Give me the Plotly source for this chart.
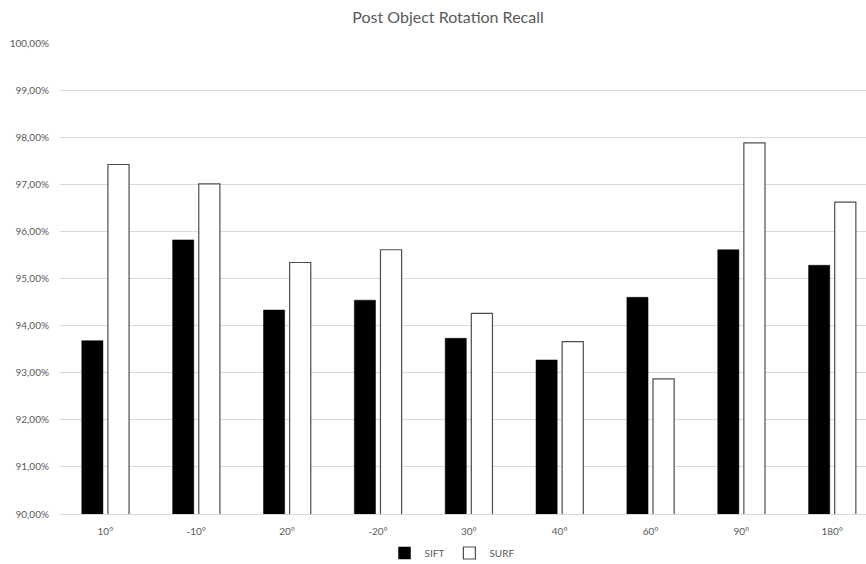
import plotly.graph_objects as go

categories = ["10°", "-10°", "20°", "-20°", "30°", "40°", "60°", "90°", "180°"]
sift_values = [93.68, 95.82, 94.33, 94.54, 93.73, 93.27, 94.60, 95.61, 95.28]
surf_values = [97.42, 97.01, 95.34, 95.61, 94.26, 93.66, 92.87, 97.88, 96.62]
y_ticks = [90, 91, 92, 93, 94, 95, 96, 97, 98, 99, 100]
y_tick_labels = [f"{v:.2f}%".replace(".", ",") for v in y_ticks]

W, H = 866, 564
FONT = "Lato"
GREY = "#595959"

fig = go.Figure()
fig.add_trace(go.Bar(
    x=categories, y=sift_values, name="SIFT",
    marker=dict(color="#000000", line=dict(color="#000000", width=0.5)),
))
fig.add_trace(go.Bar(
    x=categories, y=surf_values, name="SURF",
    marker=dict(color="#ffffff", line=dict(color="#4d4d4d", width=1.2)),
))

fig.update_layout(
    template="none",
    width=W, height=H,
    margin=dict(l=60, r=0, t=43, b=50),
    paper_bgcolor="white", plot_bgcolor="white",
    barmode="group", bargap=0.425, bargroupgap=0.19,
    font=dict(family=FONT, color=GREY, size=10),
    title=dict(
        text="Post Object Rotation Recall",
        font=dict(family=FONT, size=16, color=GREY),
        x=448 / W, xref="container", xanchor="center",
        y=1 - 17.5 / H, yref="container", yanchor="middle",
    ),
    legend=dict(
        orientation="h", xref="container", yref="container",
        x=452 / W, xanchor="center", y=1 - 553 / H, yanchor="middle",
        font=dict(family=FONT, size=10, color=GREY),
        itemwidth=30, traceorder="normal",
    ),
    xaxis=dict(
        range=[-0.5, -0.5 + 806 / 90.85],
        showgrid=False, showline=True, linecolor="#d9d9d9", linewidth=1,
        ticks="", tickfont=dict(family=FONT, size=10, color=GREY),
        ticklabelstandoff=8,
    ),
    yaxis=dict(
        range=[90, 100], tickvals=y_ticks, ticktext=y_tick_labels,
        showgrid=True, gridcolor="#d9d9d9", gridwidth=1,
        showline=False, zeroline=False, ticks="",
        tickfont=dict(family=FONT, size=10, color=GREY),
        ticklabelstandoff=10,
    ),
)

fig.write_html(
    "out.html",
    config={"displayModeBar": False},
    post_script=(
        "document.body.style.margin='0';"
        "document.body.style.overflow='hidden';"
        "document.documentElement.style.overflow='hidden';"
    ),
)
